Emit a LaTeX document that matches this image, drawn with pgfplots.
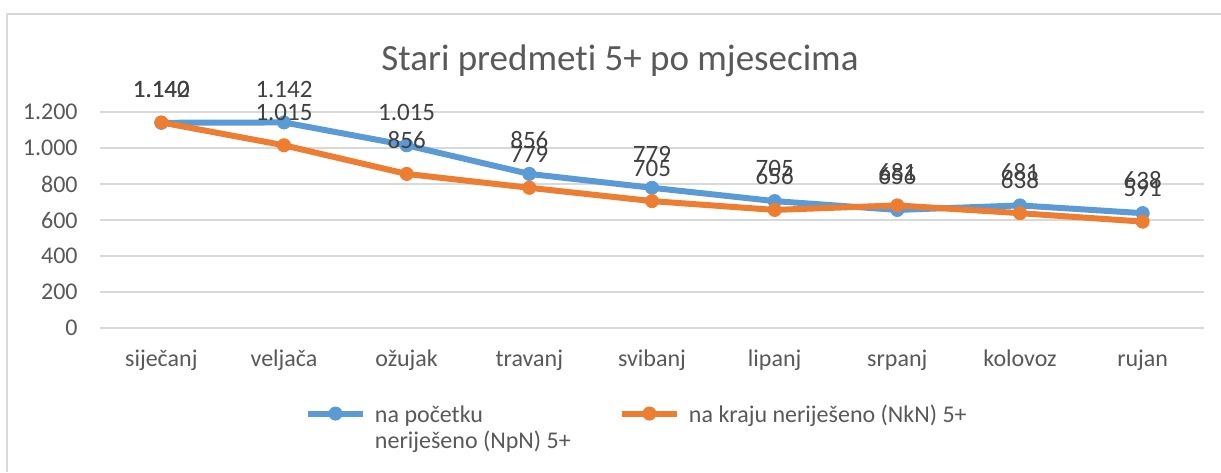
\documentclass[border=0pt]{standalone}
\usepackage{fontspec}
\setmainfont{Carlito}[RawFeature={-liga}]
\usepackage{pgfplots}
\pgfplotsset{compat=1.18}
\definecolor{blueS}{HTML}{5B9BD5}
\definecolor{orangeS}{HTML}{ED7D31}
\definecolor{gridc}{HTML}{D9D9D9}
\definecolor{txt}{HTML}{595959}
\definecolor{lbl}{HTML}{404040}
\begin{document}
\begin{tikzpicture}
\useasboundingbox (0,0) rectangle (610.5pt,236pt);
\fill[white] (0,0) rectangle (610.5pt,236pt);
\draw[gridc, line width=1pt] (3.5pt,0) -- (3.5pt,229pt) -- (610.5pt,229pt);
\node[text=txt, font=\fontsize{18.5}{22}\selectfont, anchor=base, inner sep=0pt] at (310pt,200.5pt) {Stari predmet\kern0pt i 5+ po mjesecima};
\begin{axis}[
  at={(50pt,72pt)}, anchor=south west,
  scale only axis, width=552pt, height=108pt,
  xmin=-0.5, xmax=8.5, ymin=0, ymax=1200,
  xtick={0,...,8},
  xticklabels={siječanj,veljača,ožujak,travanj,svibanj,lipanj,srpanj,kolovoz,rujan},
  ytick={0,200,...,1200},
  ymajorgrids, grid style={gridc, line width=0.75pt},
  axis line style={draw=none},
  major tick length=0pt, tick style={draw=none},
  tick label style={font=\fontsize{12}{14}\selectfont, text=txt},
  yticklabel style={anchor=east, inner sep=0pt, xshift=-11pt},
  xticklabel style={anchor=base, inner sep=0pt, yshift=-19pt},
  /pgf/number format/1000 sep={.},
  /pgf/number format/assume math mode=true,
  clip=false,
  nodes near coords,
  every node near coord/.append style={anchor=base, yshift=12.5pt, inner sep=0pt, font=\fontsize{12.5}{14}\selectfont, text=lbl},
  legend columns=2,
  legend style={draw=none, fill=none, inner sep=0pt, outer sep=0pt, column sep=0pt, row sep=0pt,
    at={(0.18569,-0.338)}, anchor=north west, font=\fontsize{12}{13}\selectfont, text=txt,
    cells={anchor=base west, inner sep=0pt}},
  legend image code/.code={\draw[mark repeat=2, mark phase=2, #1] plot coordinates {(0pt,4.5pt) (13.75pt,4.5pt) (27.5pt,4.5pt)}; \path (30pt,0pt);},
]
\addplot[blueS, line width=3pt, mark=*, mark size=3.3pt, mark options={solid, fill=blueS, draw=blueS, line width=0.4pt}]
  coordinates {(0,1140) (1,1142) (2,1015) (3,856) (4,779) (5,705) (6,656) (7,681) (8,638)};
\addlegendentry{\parbox[t]{120pt}{na početku\\neriješeno (NpN) 5+}}
\addplot[orangeS, line width=3pt, mark=*, mark size=3.3pt, mark options={solid, fill=orangeS, draw=orangeS, line width=0.4pt}]
  coordinates {(0,1142) (1,1015) (2,856) (3,779) (4,705) (5,656) (6,681) (7,638) (8,591)};
\addlegendentry{na kraju neriješeno (NkN) 5+}
\end{axis}
\end{tikzpicture}
\end{document}
